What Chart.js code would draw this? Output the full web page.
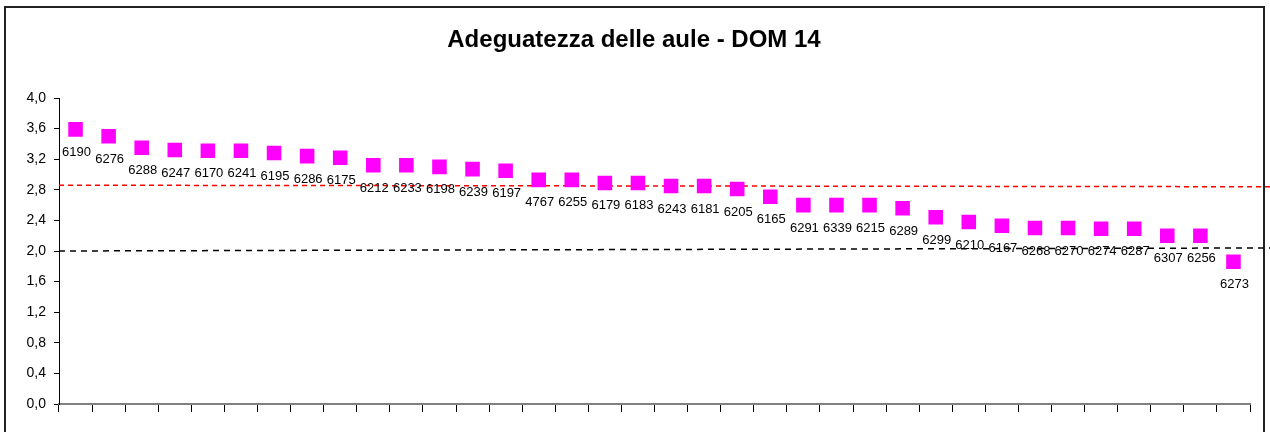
<!DOCTYPE html>
<html>
<head>
<meta charset="utf-8">
<script src="https://cdn.jsdelivr.net/npm/chart.js@4"></script>
<style>
html,body{margin:0;padding:0;background:#fff;}
#wrap{position:relative;width:1270px;height:432px;}
</style>
</head>
<body>
<div id="wrap"><canvas id="c" width="1270" height="432"></canvas></div>
<script>
const titleText = "Adeguatezza delle aule - DOM 14";
const categories = ["6190","6276","6288","6247","6170","6241","6195","6286","6175","6212","6233","6198","6239","6197","4767","6255","6179","6183","6243","6181","6205","6165","6291","6339","6215","6289","6299","6210","6167","6268","6270","6274","6287","6307","6256","6273"];
const values = [3.59,3.50,3.35,3.32,3.31,3.31,3.28,3.24,3.22,3.12,3.12,3.10,3.07,3.05,2.93,2.93,2.89,2.89,2.85,2.85,2.81,2.71,2.60,2.60,2.60,2.56,2.44,2.38,2.33,2.30,2.30,2.29,2.29,2.20,2.20,1.86];
const yTicks = [0,0.4,0.8,1.2,1.6,2.0,2.4,2.8,3.2,3.6,4.0];
const redRefLine = [2.86, 2.84];   // value at left end, right end
const blackRefLine = [2.00, 2.04];

const FONT = "'Liberation Sans', Arial, sans-serif";

const framePlugin = {
  id: 'frame',
  beforeDraw(chart) {
    const ctx = chart.ctx;
    ctx.save();
    ctx.fillStyle = '#fff';
    ctx.fillRect(0, 0, chart.width, chart.height);
    ctx.strokeStyle = '#222';
    ctx.lineWidth = 2;
    ctx.strokeRect(5, 7, 1259, 440);
    ctx.fillStyle = '#000';
    ctx.font = "bold 24px " + FONT;
    ctx.textAlign = 'center';
    ctx.textBaseline = 'middle';
    ctx.fillText(titleText, 634, 40);
    ctx.restore();
  }
};

const refLinesPlugin = {
  id: 'refLines',
  beforeDatasetsDraw(chart) {
    const ctx = chart.ctx;
    const y = chart.scales.y;
    const x0 = chart.chartArea.left, x1 = 1270;
    const draw = (vals, color, dash) => {
      ctx.save();
      ctx.strokeStyle = color;
      ctx.lineWidth = 1.5;
      ctx.setLineDash(dash);
      ctx.beginPath();
      ctx.moveTo(x0, y.getPixelForValue(vals[0]));
      ctx.lineTo(x1, y.getPixelForValue(vals[1]));
      ctx.stroke();
      ctx.restore();
    };
    draw(redRefLine, '#ff0000', [5, 4]);
    draw(blackRefLine, '#000000', [6, 5]);
  }
};

const labelPlugin = {
  id: 'ptLabels',
  afterDatasetsDraw(chart) {
    const ctx = chart.ctx;
    const meta = chart.getDatasetMeta(0);
    ctx.save();
    ctx.fillStyle = '#000';
    ctx.font = "13px " + FONT;
    ctx.textAlign = 'center';
    ctx.textBaseline = 'middle';
    meta.data.forEach((pt, i) => {
      ctx.fillText(categories[i], pt.x + 1, pt.y + 23);
    });
    ctx.restore();
  }
};

new Chart(document.getElementById('c'), {
  type: 'line',
  data: {
    labels: categories,
    datasets: [{
      data: values,
      showLine: false,
      pointStyle: 'rect',
      pointRadius: 10.3,
      pointHoverRadius: 10.3,
      pointBackgroundColor: '#ff00ff',
      pointBorderWidth: 0,
      borderColor: '#ff00ff'
    }]
  },
  options: {
    responsive: false,
    animation: false,
    devicePixelRatio: 1,
    layout: { padding: { left: 9, right: 20, top: 98, bottom: 18 } },
    plugins: { legend: { display: false }, title: { display: false }, tooltip: { enabled: false } },
    scales: {
      x: {
        type: 'category',
        offset: true,
        afterFit(s) { s.height = 10; },
        ticks: { display: false },
        grid: { offset: true, drawOnChartArea: false, drawTicks: true, tickLength: 8, color: '#000', lineWidth: 1 },
        border: { display: true, color: '#808080', width: 2 }
      },
      y: {
        min: 0, max: 4,
        afterFit(s) { s.width = 50; },
        afterBuildTicks(s) { s.ticks = yTicks.map(v => ({ value: v })); },
        ticks: {
          color: '#000',
          font: { family: FONT, size: 14 },
          padding: 8,
          callback: v => v.toFixed(1).replace('.', ',')
        },
        grid: { drawOnChartArea: false, drawTicks: true, tickLength: 5, color: '#000', lineWidth: 1 },
        border: { display: true, color: '#000', width: 1 }
      }
    }
  },
  plugins: [framePlugin, refLinesPlugin, labelPlugin]
});
</script>
</body>
</html>
